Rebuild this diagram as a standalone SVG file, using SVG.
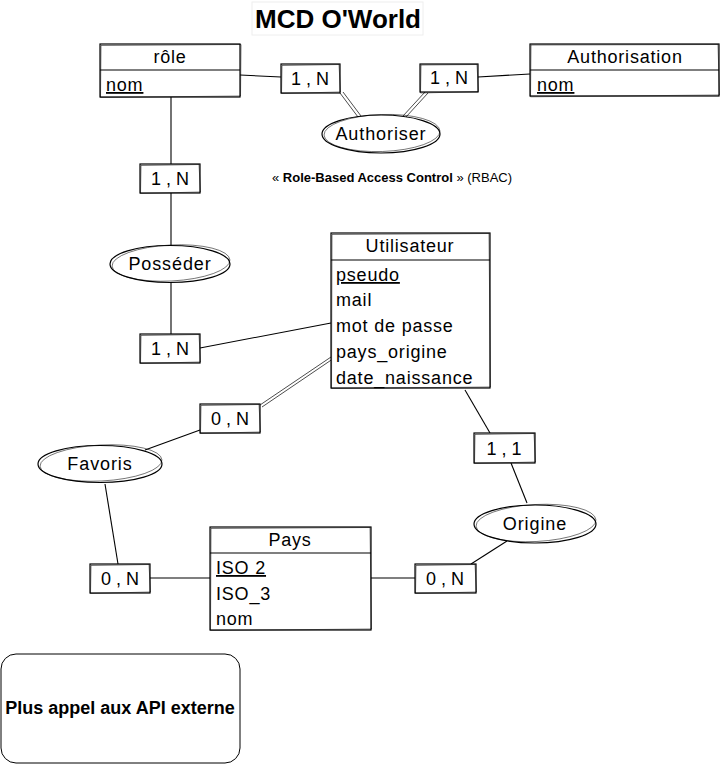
<svg xmlns="http://www.w3.org/2000/svg" width="721" height="764" viewBox="0 0 721 764">
  <style>
    .hand { font-family: "Liberation Sans", "DejaVu Sans", sans-serif; fill: #000; }
    .box { fill: #fff; stroke: #000; stroke-width: 1.2; }
    .sk { fill: none; stroke: #000; stroke-width: 0.7; opacity: 0.75; }
    .ln { fill: none; stroke: #000; stroke-width: 1.1; }
    .ln2 { fill: none; stroke: #000; stroke-width: 0.7; }
    .card { font-size: 18px; text-anchor: middle; }
    .head { font-size: 18px; text-anchor: middle; letter-spacing: 0.8px; }
    .attr { font-size: 18px; letter-spacing: 0.8px; }
    .rel { font-size: 18px; text-anchor: middle; letter-spacing: 0.9px; }
  </style>

  <rect width="721" height="764" fill="#fff"/>

  <!-- title -->
  <g id="title">
    <rect x="252" y="2" width="171" height="33" fill="none" stroke="#eee" stroke-width="1"/>
    <text class="hand" x="338" y="28" font-size="26" font-weight="bold" text-anchor="middle">MCD O'World</text>
  </g>

  <!-- connectors -->
  <g id="connectors">
    <path class="ln" d="M240 75 L281 77"/>
    <path class="ln2" d="M340 93 L358 117 M343 92 L361 116"/>
    <path class="ln2" d="M425 92 L403 116 M428 93 L406 117"/>
    <path class="ln" d="M478 77 L530 74"/>
    <path class="ln" d="M171 97 L171 164"/>
    <path class="ln" d="M171 193 L171 246"/>
    <path class="ln" d="M171 283 L171 334"/>
    <path class="ln" d="M200 348 L331 323"/>
    <path class="ln2" d="M260 405 L331 357 M262 407 L332 359.5"/>
    <path class="ln" d="M200 430 L145 450"/>
    <path class="ln" d="M105 484 L118 564"/>
    <path class="ln" d="M150 578 L210 578"/>
    <path class="ln" d="M371 578 L415 578"/>
    <path class="ln" d="M471 564 L507 541"/>
    <path class="ln" d="M527 503 L511 463"/>
    <path class="ln" d="M490 433 L465 390"/>
  </g>

  <!-- rôle entity -->
  <g id="role">
    <rect class="box" x="100" y="44" width="140" height="53"/>
    <path class="sk" d="M101 45.5 L241 44.5 L240.5 96 L100.5 97.5 Z"/>
    <path class="ln" d="M100 70 L240 70"/>
    <text class="hand head" x="170" y="63">rôle</text>
    <text class="hand attr" x="106" y="91" text-decoration="underline">nom</text>
  </g>

  <!-- Authorisation entity -->
  <g id="authorisation">
    <rect class="box" x="530" y="44" width="189" height="52"/>
    <path class="sk" d="M531 45 L718 44.5 L719.5 95 L530.5 96.8 Z"/>
    <path class="ln" d="M530 70 L719 70"/>
    <text class="hand head" x="625" y="63">Authorisation</text>
    <text class="hand attr" x="537" y="91" text-decoration="underline">nom</text>
  </g>

  <!-- cardinalities rôle / Authorisation -->
  <g id="card-role-auth">
    <rect class="box" x="281" y="64" width="59" height="29"/>
    <path class="sk" d="M282 65.5 L339 64.5 L340.5 92 L281.5 93.5 Z"/>
    <text class="hand card" x="310" y="85">1 , N</text>
  </g>
  <g id="card-auth-role">
    <rect class="box" x="420" y="64" width="58" height="28"/>
    <path class="sk" d="M421 65 L477 64.5 L478.5 91.5 L420.5 93 Z"/>
    <text class="hand card" x="449" y="84">1 , N</text>
  </g>

  <!-- Authoriser association -->
  <g id="authoriser">
    <ellipse class="box" cx="381" cy="134" rx="59" ry="19"/>
    <ellipse class="sk" cx="382" cy="133" rx="58" ry="18.5" transform="rotate(-2 382 133)"/>
    <text class="hand rel" x="381" y="140">Authoriser</text>
  </g>

  <!-- RBAC note -->
  <g id="rbac-note">
    <text x="392" y="182" font-family="Liberation Sans, Arial, sans-serif" font-size="13" text-anchor="middle">« <tspan font-weight="bold">Role-Based Access Control</tspan> » (RBAC)</text>
  </g>

  <!-- Posséder branch -->
  <g id="card-role-posseder">
    <rect class="box" x="140" y="164" width="60" height="29"/>
    <path class="sk" d="M141 165.5 L199 164.5 L200.5 192 L140.5 193.5 Z"/>
    <text class="hand card" x="170" y="185">1 , N</text>
  </g>
  <g id="posseder">
    <ellipse class="box" cx="170" cy="264" rx="60" ry="18.5"/>
    <ellipse class="sk" cx="171" cy="263" rx="59" ry="18" transform="rotate(-3 171 263)"/>
    <text class="hand rel" x="170" y="270">Posséder</text>
  </g>
  <g id="card-user-posseder">
    <rect class="box" x="140" y="334" width="60" height="29"/>
    <path class="sk" d="M141 335.5 L199 334.5 L200.5 362 L140.5 363.5 Z"/>
    <text class="hand card" x="170" y="355">1 , N</text>
  </g>

  <!-- Utilisateur entity -->
  <g id="utilisateur">
    <rect class="box" x="331" y="233" width="159" height="155"/>
    <path class="sk" d="M332 234.5 L489 233.5 L490.5 387 L331.5 388.5 Z"/>
    <path class="ln" d="M331 260 L490 260"/>
    <text class="hand head" x="410" y="252">Utilisateur</text>
    <text class="hand attr" x="336" y="281" text-decoration="underline">pseudo</text>
    <text class="hand attr" x="336" y="306">mail</text>
    <text class="hand attr" x="336" y="332">mot de passe</text>
    <text class="hand attr" x="336" y="358">pays_origine</text>
    <text class="hand attr" x="336" y="384">date_naissance</text>
  </g>

  <!-- Favoris branch -->
  <g id="card-user-favoris">
    <rect class="box" x="200" y="404" width="60" height="29"/>
    <path class="sk" d="M201 405.5 L259 404.5 L260.5 432 L200.5 433.5 Z"/>
    <text class="hand card" x="230" y="425">0 , N</text>
  </g>
  <g id="favoris">
    <ellipse class="box" cx="100" cy="464" rx="62" ry="18.5"/>
    <ellipse class="sk" cx="101" cy="463" rx="61" ry="18" transform="rotate(-3 101 463)"/>
    <text class="hand rel" x="100" y="470">Favoris</text>
  </g>
  <g id="card-pays-favoris">
    <rect class="box" x="90" y="564" width="60" height="29"/>
    <path class="sk" d="M91 565.5 L149 564.5 L150.5 592 L90.5 593.5 Z"/>
    <text class="hand card" x="120" y="585">0 , N</text>
  </g>

  <!-- Pays entity -->
  <g id="pays">
    <rect class="box" x="210" y="527" width="161" height="103"/>
    <path class="sk" d="M211 528.5 L370 527.5 L371.5 629 L210.5 630.5 Z"/>
    <path class="ln" d="M210 553 L371 553"/>
    <text class="hand head" x="290" y="546">Pays</text>
    <text class="hand attr" x="216" y="574" text-decoration="underline">ISO 2</text>
    <text class="hand attr" x="216" y="600">ISO_3</text>
    <text class="hand attr" x="216" y="625">nom</text>
  </g>

  <!-- Origine branch -->
  <g id="card-pays-origine">
    <rect class="box" x="415" y="564" width="61" height="29"/>
    <path class="sk" d="M416 565.5 L475 564.5 L476.5 592 L415.5 593.5 Z"/>
    <text class="hand card" x="445" y="585">0 , N</text>
  </g>
  <g id="origine">
    <ellipse class="box" cx="535" cy="524" rx="61" ry="19"/>
    <ellipse class="sk" cx="536" cy="523" rx="60" ry="18.5" transform="rotate(-3 536 523)"/>
    <text class="hand rel" x="535" y="530">Origine</text>
  </g>
  <g id="card-user-origine">
    <rect class="box" x="474" y="433" width="61" height="30"/>
    <path class="sk" d="M475 434.5 L534 433.5 L535.5 462 L474.5 463.5 Z"/>
    <text class="hand card" x="504" y="455">1 , 1</text>
  </g>

  <!-- external API note -->
  <g id="api-note">
    <rect x="1" y="654" width="239" height="109" rx="15" ry="15" fill="#fff" stroke="#000" stroke-width="1"/>
    <text x="120" y="714" font-family="Liberation Sans, Arial, sans-serif" font-size="18" font-weight="bold" text-anchor="middle">Plus appel aux API externe</text>
  </g>
</svg>
